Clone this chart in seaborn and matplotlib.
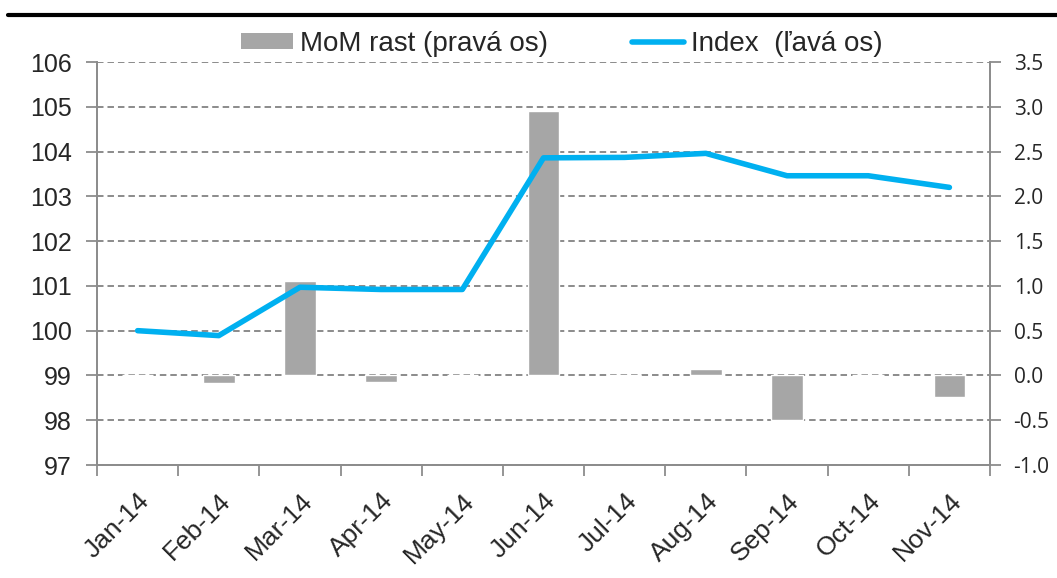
import numpy as np
import pandas as pd
import seaborn as sns
import matplotlib.pyplot as plt
from matplotlib.ticker import FixedLocator, FormatStrFormatter
from matplotlib.lines import Line2D
from matplotlib.patches import Patch

months = ['Jan-14', 'Feb-14', 'Mar-14', 'Apr-14', 'May-14', 'Jun-14',
          'Jul-14', 'Aug-14', 'Sep-14', 'Oct-14', 'Nov-14']
index_vals = [100.0, 99.89, 100.97, 100.92, 100.92, 103.86,
              103.87, 103.96, 103.46, 103.46, 103.2]
mom_vals = [0.0, -0.08, 1.05, -0.07, 0.0, 2.95,
            0.01, 0.07, -0.5, 0.0, -0.24]

df = pd.DataFrame({'month': months, 'index': index_vals, 'mom': mom_vals})

sns.set_style('white')
plt.rcParams['font.family'] = ['Liberation Sans', 'DejaVu Sans']

fig = plt.figure(figsize=(10.57, 5.78), dpi=100)
ax = fig.add_axes([0.0918, 0.1955, 0.8448, 0.6972])
ax2 = ax.twinx()

grey = '#A6A6A6'
blue = '#00B0F0'
axcol = '#8C8C8C'

# bars on right axis
sns.barplot(data=df, x='month', y='mom', color=grey, width=0.39,
            saturation=1, ax=ax2, zorder=2)
# line on left axis
sns.lineplot(data=df, x='month', y='index', color=blue, linewidth=4,
             ax=ax, sort=False, zorder=3)

ax.set_zorder(ax2.get_zorder() + 1)
ax.patch.set_visible(False)

ax.set_ylim(97, 106)
ax2.set_ylim(-1.0, 3.5)
ax.set_xlim(-0.5, 10.5)
ax.set_yticks(np.arange(97, 107, 1))
ax2.set_yticks(np.arange(-1.0, 3.51, 0.5))
ax2.yaxis.set_major_formatter(FormatStrFormatter('%.1f'))

# grid behind bars
ax2.set_axisbelow(True)
ax2.yaxis.grid(True, linestyle=(0, (3.6, 2.2)), color='#828282', linewidth=1.3)
ax.grid(False)
ax.xaxis.grid(False)
ax2.xaxis.grid(False)

for a in (ax, ax2):
    a.set_xlabel('')
    a.set_ylabel('')
    for s in a.spines.values():
        s.set_color(axcol)
        s.set_linewidth(1.3)
    a.spines['top'].set_visible(False)

ax.tick_params(axis='y', which='major', direction='out', length=8, width=1.3,
               color=axcol, labelsize=18, pad=10, left=True)
ax2.tick_params(axis='y', which='major', direction='out', length=8, width=1.3,
                color=axcol, labelsize=15, pad=9, right=True)
for lbl in ax2.get_yticklabels():
    lbl.set_fontfamily(['Open Sans', 'DejaVu Sans'])

# x ticks: marks at category borders, labels at centers
ax.set_xticks(range(len(months)))
ax.set_xticklabels(months, rotation=45, ha='right', rotation_mode='anchor',
                   fontsize=19)
ax.xaxis.set_minor_locator(FixedLocator(np.arange(-0.5, 11, 1)))
ax.tick_params(axis='x', which='major', length=0, pad=17)
ax.tick_params(axis='x', which='minor', length=8, width=1.3, color=axcol,
               direction='out', bottom=True)
ax2.tick_params(axis='x', which='both', length=0, labelbottom=False)

handles = [Patch(facecolor=grey, edgecolor='none'),
           Line2D([0], [0], color=blue, linewidth=4)]
leg = fig.legend(handles, ['MoM rast (pravá os)', 'Index  (ľavá os)'],
                 loc='center', bbox_to_anchor=(0.5315, 0.924), ncol=2,
                 frameon=False, fontsize=20, columnspacing=3.0,
                 handlelength=1.87, handletextpad=0.25, handleheight=0.47,
                 borderpad=0, borderaxespad=0)

# rule under the (cropped) header
fig.add_artist(Line2D([0.008, 1.0], [0.974, 0.974], color='black',
                      linewidth=3, transform=fig.transFigure))

fig.savefig('out.png', dpi=100)
